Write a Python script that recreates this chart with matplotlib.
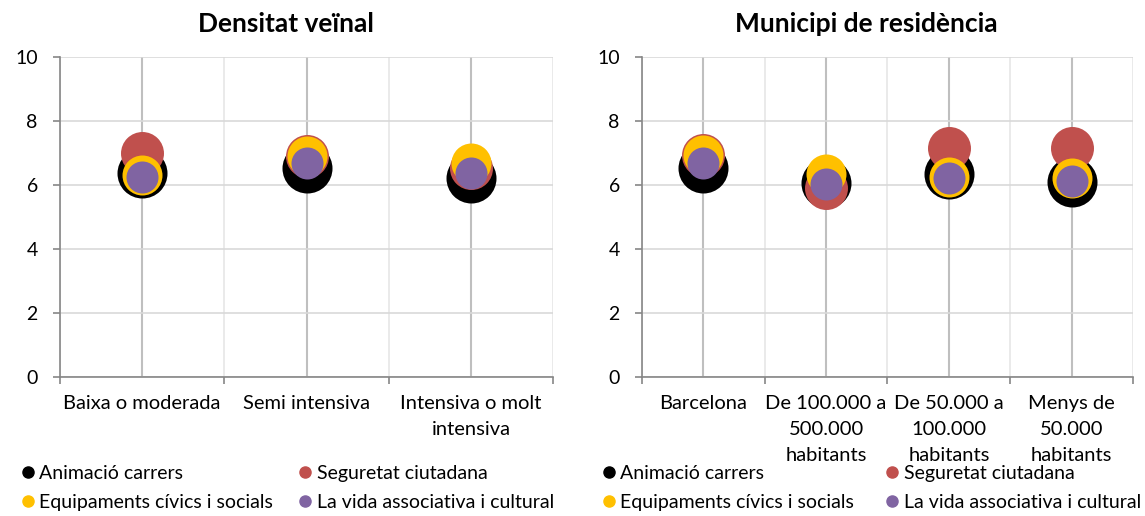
import matplotlib
matplotlib.use("Agg")
import matplotlib.pyplot as plt
from matplotlib.lines import Line2D
import numpy as np

plt.rcParams['font.family'] = ['Lato', 'DejaVu Sans']

# Dades
series = ["Animació carrers", "Seguretat ciutadana",
          "Equipaments cívics i socials", "La vida associativa i cultural"]
colors = ["#000000", "#C0504D", "#FFC000", "#8064A2"]
sizes = [1296, 958, 829, 531]

cats_left = ["Baixa o moderada", "Semi intensiva", "Intensiva o molt\nintensiva"]
animacio_left = [6.38, 6.52, 6.21]
seguretat_left = [7.01, 6.90, 6.54]
equip_left = [6.31, 6.92, 6.69]
vida_left = [6.24, 6.68, 6.37]

cats_right = ["Barcelona", "De 100.000 a\n500.000\nhabitants",
              "De 50.000 a\n100.000\nhabitants", "Menys de\n50.000\nhabitants"]
animacio_right = [6.52, 6.05, 6.33, 6.08]
seguretat_right = [6.93, 5.92, 7.15, 7.15]
equip_right = [6.95, 6.35, 6.25, 6.23]
vida_right = [6.70, 6.04, 6.22, 6.13]

fig = plt.figure(figsize=(11.45, 5.16), dpi=100)
ax1 = fig.add_axes([0.0524, 0.2694, 0.4306, 0.6202])
ax2 = fig.add_axes([0.5607, 0.2694, 0.4288, 0.6202])


def draw(ax, cats, vals, title, title_x, leg_x, colsp):
    n = len(cats)
    x = np.arange(n)
    for v, c, s in zip(vals, colors, sizes):
        ax.scatter(x, v, s=s, color=c, linewidths=0, zorder=3)
    ax.set_xlim(-0.5, n - 0.5)
    ax.set_ylim(0, 10)
    ax.set_yticks(range(0, 11, 2))
    ax.set_xticks(x)
    ax.set_xticklabels(cats, fontsize=14.5, linespacing=1.65)
    ax.set_xticks(np.arange(n + 1) - 0.5, minor=True)
    ax.tick_params(axis='x', which='major', length=0, pad=13)
    ax.tick_params(axis='x', which='minor', length=5, width=1.2, color='#868686')
    ax.tick_params(axis='y', length=5, width=1.2, color='#868686', labelsize=14, pad=11)
    ax.grid(axis='x', which='major', color='#bfbfbf', linewidth=1.5, zorder=0)
    ax.grid(axis='x', which='minor', color='#e6e6e6', linewidth=1.2, zorder=0)
    ax.grid(axis='y', which='major', color='#d9d9d9', linewidth=1.2, zorder=0)
    ax.set_axisbelow(True)
    for s in ['top', 'right']:
        ax.spines[s].set_visible(False)
    for s in ['left', 'bottom']:
        ax.spines[s].set_color('#868686')
        ax.spines[s].set_linewidth(1.2)
    ax.set_title(title, fontsize=19, fontweight='bold', pad=18, x=title_x)

    order = [0, 2, 1, 3]
    handles = [Line2D([], [], marker='o', linestyle='None', color=colors[i],
                      markersize=8, label=series[i]) for i in order]
    ax.legend(handles=handles, ncol=2, loc='center left', frameon=False,
              bbox_to_anchor=(leg_x, 0.054), bbox_transform=fig.transFigure,
              fontsize=14.0, handletextpad=0.15, handlelength=0.9,
              columnspacing=colsp, labelspacing=0.6, borderaxespad=0, borderpad=0)


draw(ax1, cats_left,
     [animacio_left, seguretat_left, equip_left, vida_left],
     "Densitat veïnal", 0.458, 0.0166, 1.2)
draw(ax2, cats_right,
     [animacio_right, seguretat_right, equip_right, vida_right],
     "Municipi de residència", 0.456, 0.524, 1.5)

fig.savefig("out.png", dpi=100)
